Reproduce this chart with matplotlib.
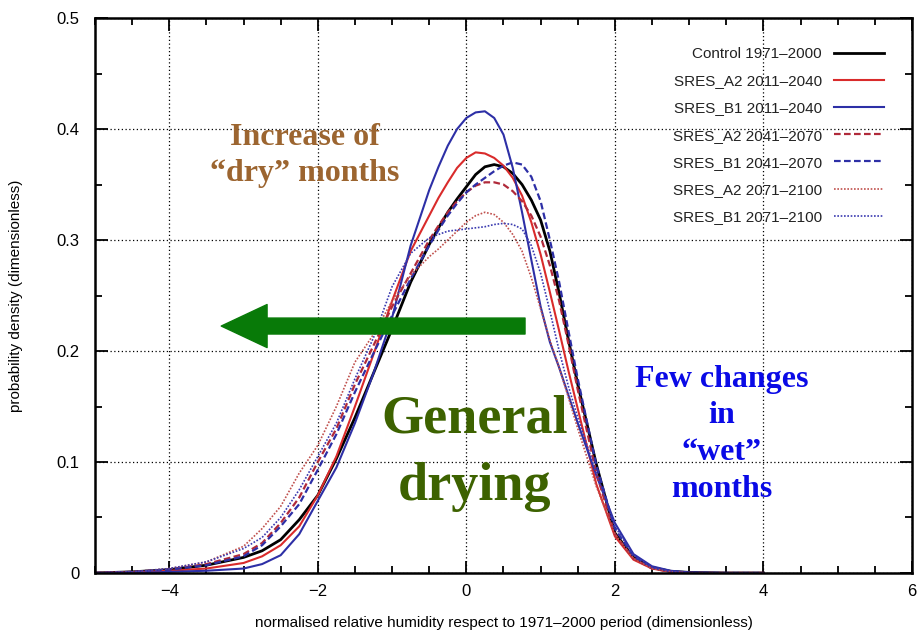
import numpy as np
import matplotlib
matplotlib.use("Agg")
import matplotlib.pyplot as plt
from matplotlib.ticker import MultipleLocator

plt.rcParams['font.family'] = ['Liberation Sans', 'DejaVu Sans']

# normalised relative humidity grid shared by all curves (finer around the peak)
x = [-5, -4.5, -4, -3.5, -3, -2.75, -2.5, -2.25, -2, -1.75, -1.5, -1.25, -1, -0.75,
     -0.5, -0.375, -0.25, -0.125, 0, 0.125, 0.25, 0.375, 0.5, 0.625, 0.75,
     0.875, 1, 1.125, 1.25, 1.375, 1.5,
     1.75, 2, 2.25, 2.5, 2.75, 3, 3.5, 4]

control_1971_2000 = [0, 0.001, 0.003, 0.007, 0.014, 0.02, 0.03, 0.048, 0.07, 0.103,
                     0.14, 0.18, 0.22, 0.262,
                     0.296, 0.311, 0.325, 0.337, 0.348, 0.359, 0.366, 0.368, 0.366,
                     0.36, 0.35, 0.336, 0.318, 0.29, 0.252, 0.21, 0.17,
                     0.098, 0.036, 0.014, 0.005, 0.0015, 0.0005, 0, 0]
a2_2011_2040 = [0, 0.0005, 0.002, 0.004, 0.009, 0.015, 0.025, 0.042, 0.07, 0.105,
                0.15, 0.197, 0.245, 0.29,
                0.322, 0.338, 0.352, 0.365, 0.374, 0.379, 0.378, 0.374, 0.367,
                0.356, 0.34, 0.316, 0.287, 0.253, 0.218, 0.182, 0.148,
                0.08, 0.033, 0.012, 0.004, 0.001, 0, 0, 0]
b1_2011_2040 = [0, 0, 0.001, 0.002, 0.004, 0.008, 0.016, 0.035, 0.065, 0.095,
                0.135, 0.18, 0.23, 0.295,
                0.345, 0.366, 0.385, 0.4, 0.41, 0.415, 0.416, 0.41, 0.395,
                0.365, 0.325, 0.282, 0.24, 0.208, 0.185, 0.16, 0.135,
                0.088, 0.045, 0.017, 0.006, 0.002, 0.0005, 0, 0]
a2_2041_2070 = [0, 0.001, 0.003, 0.008, 0.017, 0.027, 0.045, 0.068, 0.1, 0.13,
                0.17, 0.205, 0.24, 0.27,
                0.3, 0.313, 0.325, 0.335, 0.343, 0.349, 0.352, 0.352, 0.35,
                0.344, 0.335, 0.322, 0.303, 0.277, 0.245, 0.206, 0.165,
                0.09, 0.035, 0.013, 0.004, 0.001, 0, 0, 0]
b1_2041_2070 = [0, 0.001, 0.003, 0.007, 0.015, 0.025, 0.042, 0.062, 0.093, 0.125,
                0.163, 0.198, 0.232, 0.265,
                0.295, 0.309, 0.322, 0.333, 0.343, 0.35, 0.356, 0.362, 0.367,
                0.37, 0.368, 0.357, 0.335, 0.3, 0.262, 0.218, 0.175,
                0.097, 0.04, 0.015, 0.005, 0.0015, 0, 0, 0]
a2_2071_2100 = [0, 0.001, 0.004, 0.01, 0.024, 0.04, 0.06, 0.09, 0.115, 0.15,
                0.19, 0.215, 0.245, 0.268,
                0.285, 0.292, 0.3, 0.308, 0.316, 0.322, 0.325, 0.323, 0.316,
                0.305, 0.29, 0.266, 0.238, 0.21, 0.185, 0.158, 0.13,
                0.078, 0.035, 0.013, 0.004, 0.001, 0, 0, 0]
b1_2071_2100 = [0, 0.001, 0.004, 0.01, 0.022, 0.032, 0.05, 0.075, 0.105, 0.135,
                0.175, 0.212, 0.258, 0.288,
                0.302, 0.305, 0.308, 0.309, 0.31, 0.311, 0.312, 0.314, 0.315,
                0.314, 0.31, 0.295, 0.27, 0.236, 0.2, 0.168, 0.14,
                0.09, 0.042, 0.016, 0.005, 0.0015, 0, 0, 0]

labels = ["Control 1971\u20132000", "SRES_A2 2011\u20132040",
          "SRES_B1 2011\u20132040", "SRES_A2 2041\u20132070",
          "SRES_B1 2041\u20132070", "SRES_A2 2071\u20132100",
          "SRES_B1 2071\u20132100"]
series = [control_1971_2000, a2_2011_2040, b1_2011_2040, a2_2041_2070,
          b1_2041_2070, a2_2071_2100, b1_2071_2100]

red = '#d92b2b'
blue = '#2d2fa6'
styles = [
    dict(color='black', lw=2.0, ls='-'),
    dict(color=red, lw=1.5, ls='-'),
    dict(color=blue, lw=1.5, ls='-'),
    dict(color='#b02a3a', lw=1.6, ls=(0, (3, 1.5))),
    dict(color=blue, lw=1.6, ls=(0, (3, 1.5))),
    dict(color='#c0504d', lw=1.2, ls=(0, (1, 1))),
    dict(color='#3a3ab0', lw=1.2, ls=(0, (1, 1))),
]

fig = plt.figure(figsize=(9.24, 6.32), dpi=100)
ax = fig.add_axes([0.1028, 0.0934, 0.8842, 0.878])

for y, lab, st in zip(series, labels, styles):
    ax.plot(x, y, label=lab, **st)

ax.set_xlim(-5, 6)
ax.set_ylim(0, 0.5)
ax.xaxis.set_minor_locator(MultipleLocator(0.5))
ax.yaxis.set_minor_locator(MultipleLocator(0.05))
ax.set_xticks([-4, -2, 0, 2, 4, 6])
ax.set_xticklabels(['\u22124', '\u22122', '0', '2', '4', '6'])
ax.set_yticks([0, 0.1, 0.2, 0.3, 0.4, 0.5])
ax.set_yticklabels(['0', '0.1', '0.2', '0.3', '0.4', '0.5'])
ax.tick_params(which='both', direction='in', top=True, right=True,
               labelsize=12, width=1.3)
ax.tick_params(which='major', length=9, pad=8)
ax.tick_params(axis='y', which='major', pad=11)
ax.tick_params(which='minor', length=5)
for sp in ax.spines.values():
    sp.set_linewidth(1.8)
ax.grid(True, which='major', ls=(0, (1, 2)), color='black', lw=0.9)

ax.set_xlabel("normalised relative humidity respect to 1971\u20132000 period (dimensionless)",
              fontsize=11, labelpad=12)
ax.set_ylabel("probability density (dimensionless)", fontsize=11, labelpad=24)

ax.legend(loc='upper right', frameon=False, markerfirst=False, fontsize=11,
          handlelength=3.3, labelspacing=0.86, borderaxespad=0.6,
          labelcolor='#222222', bbox_to_anchor=(0.985, 0.975))

# annotations
serif = ['Liberation Serif', 'DejaVu Serif']
ax.text(-2.17, 0.376, "Increase of\n\u201cdry\u201d months", color='#9c6530',
        fontsize=23, fontweight='bold', family=serif, ha='center', va='center',
        linespacing=1.3)
ax.text(0.11, 0.108, "General\ndrying", color='#3d6200', fontsize=39,
        fontweight='bold', family=serif, ha='center', va='center',
        linespacing=1.45)
ax.text(3.44, 0.125, "Few changes\nin\n\u201cwet\u201d\nmonths", color='#0a0ae6',
        fontsize=23, fontweight='bold', family=serif, ha='center', va='center',
        linespacing=1.35)
ax.annotate('', xy=(-3.3, 0.2225), xytext=(0.79, 0.2225),
            arrowprops=dict(width=11.5, headwidth=31, headlength=33,
                            color='#087a08', shrink=0))

fig.savefig('out.png', dpi=100)
